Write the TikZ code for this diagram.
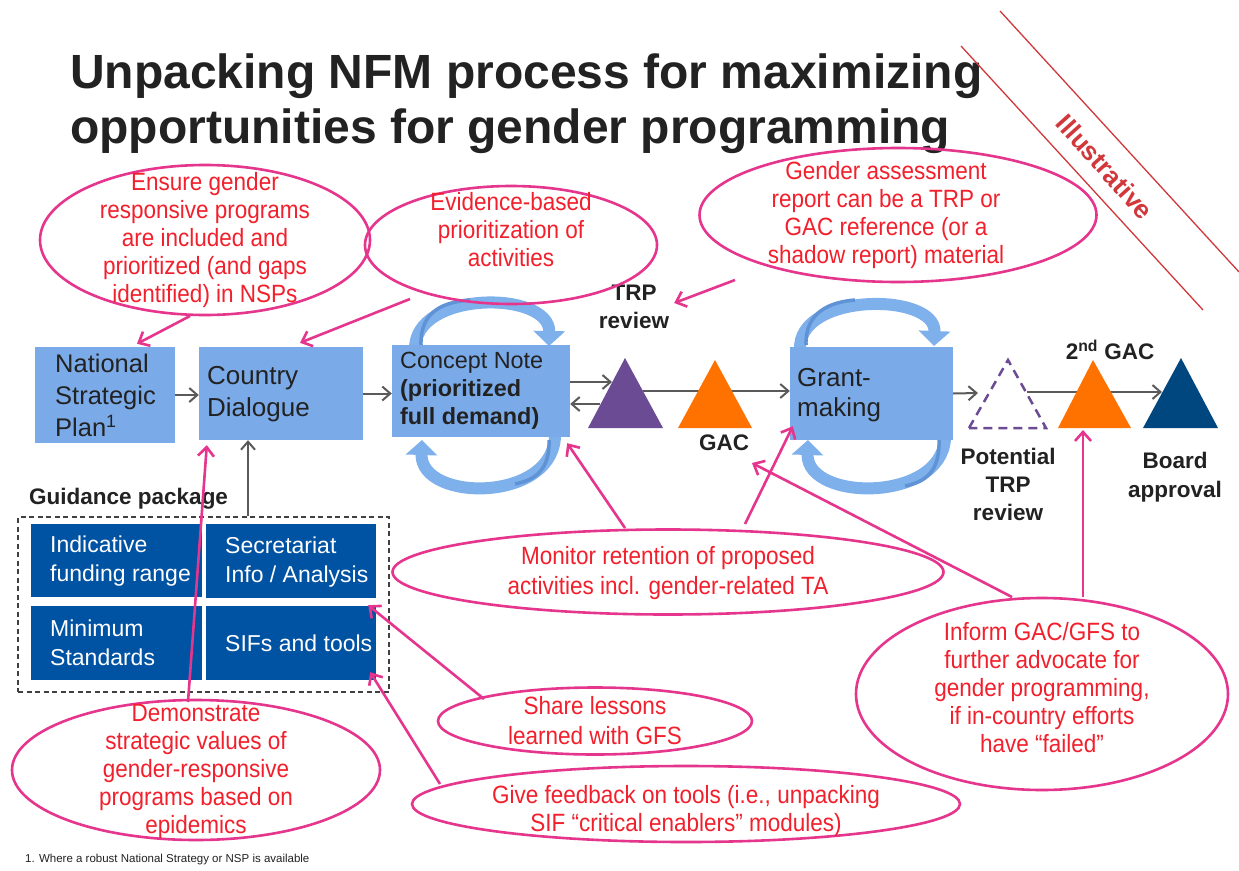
\documentclass[tikz,border=0pt]{standalone}
\usepackage{fontspec}
\setmainfont{Liberation Sans}
\newfontfamily\narrowf[FakeStretch=0.9]{Liberation Sans}
\usetikzlibrary{shapes.geometric,arrows.meta,calc}
\definecolor{boxblue}{HTML}{7AAAE8}
\definecolor{navy}{HTML}{0052A2}
\definecolor{pinkc}{HTML}{E5358D}
\definecolor{redt}{HTML}{F2202C}
\definecolor{grayc}{HTML}{5A5A5A}
\definecolor{purp}{HTML}{6B4B94}
\definecolor{orng}{HTML}{FF7200}
\definecolor{boardc}{HTML}{00467F}
\definecolor{illus}{HTML}{D0383C}
\definecolor{loopc}{HTML}{7EB0EC}
\definecolor{loopd}{HTML}{5F93D6}
\definecolor{txtc}{HTML}{222222}
\tikzset{
 note/.style={ellipse, draw=pinkc, line width=2.6pt, inner sep=0pt},
 notetext/.style={text=redt, align=center, inner sep=0pt, font=\narrowf\fontsize{25}{28}\selectfont},
 lbox/.style={fill=boxblue, inner sep=0pt},
 dbox/.style={fill=navy, inner sep=0pt},
 btext/.style={anchor=west, align=left, inner sep=0pt, text=txtc, font=\fontsize{25.5}{32}\selectfont},
 wtext/.style={anchor=west, align=left, inner sep=0pt, text=white, font=\fontsize{23}{29}\selectfont},
 lab/.style={align=center, inner sep=0pt, text=txtc, font=\bfseries\fontsize{22.5}{28}\selectfont},
 garrow/.style={draw=grayc, line width=2pt, -{Straight Barb[length=8pt,width=14pt]}},
 parrow/.style={draw=pinkc, line width=2.6pt, -{Straight Barb[length=9pt,width=16pt]}},
 loopar/.style={draw=loopc, line width=12pt, -{Triangle[length=15pt,width=31pt]}},
 loopsh/.style={draw=loopd, line width=3.5pt},
}
\begin{document}
\begin{tikzpicture}[x=1pt,y=-1pt]
\useasboundingbox (0,0) rectangle (1239,870);
\fill[white] (0,0) rectangle (1239,870);

% title
\node[anchor=west, inner sep=0pt, text=txtc, font=\bfseries\fontsize{48}{56}\selectfont] (title1) at (70,76) {Unpacking NFM process for maximizing};
\node[anchor=west, inner sep=0pt, text=txtc, font=\bfseries\fontsize{48}{56}\selectfont] (title2) at (70,131) {opportunities for gender programming};

% illustrative band
\draw[illus, line width=1.3pt] (1000,11) -- (1239,272);
\draw[illus, line width=1.3pt] (961,46) -- (1203,310);
\node[rotate=-48, inner sep=0pt, text=illus, font=\bfseries\fontsize{26}{28}\selectfont] (illustr) at (1105,167) {Illustrative};

% loops
\draw[loopar] (415,350) .. controls (413,290) and (550,290) .. (549,346);
\draw[loopsh] (421,345) .. controls (420,310) and (445,302) .. (470,300);
\draw[loopar] (555,432) .. controls (558,503) and (420,503) .. (422,440);
\draw[loopsh] (549,440) .. controls (550,470) and (535,480) .. (515,484);
\draw[loopar] (800,350) .. controls (797,292) and (936,292) .. (934,346);
\draw[loopsh] (806,345) .. controls (805,312) and (830,302) .. (855,300);
\draw[loopar] (945,432) .. controls (950,503) and (806,503) .. (808,440);
\draw[loopsh] (939,440) .. controls (940,472) and (925,482) .. (905,486);

% process boxes
\node[lbox, minimum width=140pt, minimum height=96pt] (nsp) at (105,395) {};
\node[btext] (nspt) at (55,395) {National\\Strategic\\Plan\textsuperscript{1}};
\node[lbox, minimum width=164pt, minimum height=93pt] (cd) at (281,393.5) {};
\node[btext, font=\fontsize{26}{32}\selectfont] (cdt) at (207,394) {Country\\Dialogue};
\node[lbox, minimum width=178pt, minimum height=92pt] (cn) at (481,391) {};
\node[btext, font=\fontsize{23.4}{28}\selectfont] (cnt) at (400,391) {Concept Note\\\textbf{(prioritized}\\\textbf{full demand)}};
\node[lbox, minimum width=163pt, minimum height=93pt] (gm) at (871.5,393.5) {};
\node[btext, font=\fontsize{26}{30}\selectfont] (gmt) at (797,395) {Grant-\\making};

% triangle positions
\coordinate (trp) at (625,395);
\coordinate (gac) at (715,395);
\coordinate (ptrp) at (1008,394);
\coordinate (gac2) at (1094,394);
\coordinate (brd) at (1181,393);

% gray connectors
\draw[garrow] (nsp.east) -- (cd.west |- nsp.east);
\draw[garrow] (cd.east) -- (cn.west |- cd.east);
\draw[garrow] ([yshift=9pt]cn.east) -- ($(trp)+(-13,-13)$);
\draw[garrow] ($(trp)+(-25,9)$) -- ([yshift=-13pt]cn.east);
\draw[garrow] ($(trp)+(18,-4)$) -- ([yshift=2.5pt]gm.west);
\draw[garrow] (gm.east) -- ($(ptrp)+(-30,-1)$);
\draw[garrow] ($(ptrp)+(19,-2)$) -- ($(brd)+(-19,-1)$);

% triangles
\fill[purp] (588,428) -- (625,358) -- (663,428) -- cycle;
\fill[orng] (678,428) -- (715,360) -- (752,428) -- cycle;
\fill[white] (969,428) -- (1008,360) -- (1046,428) -- cycle;
\draw[purp, line width=2.5pt, dash pattern=on 9pt off 6pt] (969,428) -- (1008,360) -- (1046,428) -- cycle;
\fill[orng] (1058,428) -- (1093,360) -- (1131,428) -- cycle;
\fill[boardc] (1143,428) -- (1181,358) -- (1218,428) -- cycle;

% labels
\node[lab] (trplab) at (634,307) {TRP\\review};
\node[lab] (gaclab) at (724,443) {GAC};
\node[lab] (gac2lab) at (1110,350) {2\textsuperscript{nd} GAC};
\node[lab] (ptrplab) at (1008,484) {Potential\\TRP\\review};
\node[lab, font=\bfseries\fontsize{22.5}{29}\selectfont] (brdlab) at (1175,477) {Board\\approval};

% guidance package
\node[lab, anchor=west] (gplab) at (29,499) {Guidance package};
\node[draw=black!75, line width=1.4pt, dash pattern=on 5pt off 3.5pt, minimum width=371pt, minimum height=175pt, inner sep=0pt] (gp) at (203.5,604.5) {};
\node[dbox, minimum width=171pt, minimum height=73pt] (b1) at (116.5,560.5) {};
\node[dbox, minimum width=170pt, minimum height=74pt] (b2) at (291,561) {};
\node[dbox, minimum width=171pt, minimum height=74pt] (b3) at (116.5,643) {};
\node[dbox, minimum width=170pt, minimum height=74pt] (b4) at (291,643) {};
\node[wtext] (b1t) at (50,561) {Indicative\\funding range};
\node[wtext] (b2t) at (225,562) {Secretariat\\Info / Analysis};
\node[wtext] (b3t) at (50,643) {Minimum\\Standards};
\node[wtext] (b4t) at (225,643) {SIFs and tools};
\draw[garrow] ($(gp.north)+(44.5,0)$) -- ($(cd.south)+(-33,0)$);

% callout ellipses
\node[note, minimum width=330pt, minimum height=150pt] (e1) at (205,240) {};
\node[notetext] (e1t) at (205,240) {Ensure gender\\responsive programs\\are included and\\prioritized (and gaps\\identified) in NSPs};
\node[note, minimum width=292pt, minimum height=118pt] (e2) at (511,245) {};
\node[notetext] (e2t) at (511,230) {Evidence-based\\prioritization of\\activities};
\node[note, minimum width=397pt, minimum height=134pt] (e3) at (898,215) {};
\node[notetext] (e3t) at (886,215) {Gender assessment\\report can be a TRP or\\GAC reference (or a\\shadow report) material};
\node[note, minimum width=551pt, minimum height=85pt] (e4) at (668,572) {};
\node[notetext, font=\narrowf\fontsize{25}{30}\selectfont] (e4t) at (668,573) {Monitor retention of proposed\\activities incl. gender-related TA};
\node[note, minimum width=372pt, minimum height=192pt] (e5) at (1042,694) {};
\node[notetext] (e5t) at (1042,688) {Inform GAC/GFS to\\further advocate for\\gender programming,\\if in-country efforts\\have “failed”};
\node[note, minimum width=314pt, minimum height=67pt] (e6) at (595,721) {};
\node[notetext, font=\narrowf\fontsize{25}{30}\selectfont] (e6t) at (595,721) {Share lessons\\learned with GFS};
\node[note, minimum width=368pt, minimum height=140pt] (e7) at (196,770) {};
\node[notetext] (e7t) at (196,771) {Demonstrate\\strategic values of\\gender-responsive\\programs based on\\epidemics};
\node[note, minimum width=548pt, minimum height=76pt] (e8) at (686,804) {};
\node[notetext] (e8t) at (686,811) {Give feedback on tools (i.e., unpacking\\SIF “critical enablers” modules)};

% pink connectors
\draw[parrow] ($(e1.center)+(-15,76)$) -- ($(nsp.north)+(32,-3)$);
\draw[parrow] ($(e2.center)+(-101,54)$) -- ($(cd.north)+(19,-4)$);
\draw[parrow] ($(e3.center)+(-163,65)$) -- ($(trplab.east)+(5,-4)$);
\draw[parrow] ($(e4.center)+(-43,-44)$) -- ($(cn.south east)+(-3,6)$);
\draw[parrow] ($(e4.center)+(77,-48)$) -- ($(gm.south west)+(3,-14)$);
\draw[parrow] ($(e5.center)+(-30,-97)$) -- ($(gaclab.center)+(28,20)$);
\draw[parrow] ($(e5.center)+(41,-97)$) -- ($(gac2)+(-11,36)$);
\draw[parrow] ($(e6.center)+(-111,-22)$) -- ($(b2.south east)+(-8,7)$);
\draw[parrow] ($(e8.center)+(-246,-20)$) -- ($(b4.south east)+(-6,-8)$);
\draw[parrow] ($(e7.center)+(-8,-68)$) -- ($(cd.south west)+(8,5)$);

% footnote
\node[anchor=west, inner sep=0pt, text=txtc, font=\fontsize{11.5}{13}\selectfont] (fn) at (25,860) {1. Where a robust National Strategy or NSP is available};
\end{tikzpicture}
\end{document}
